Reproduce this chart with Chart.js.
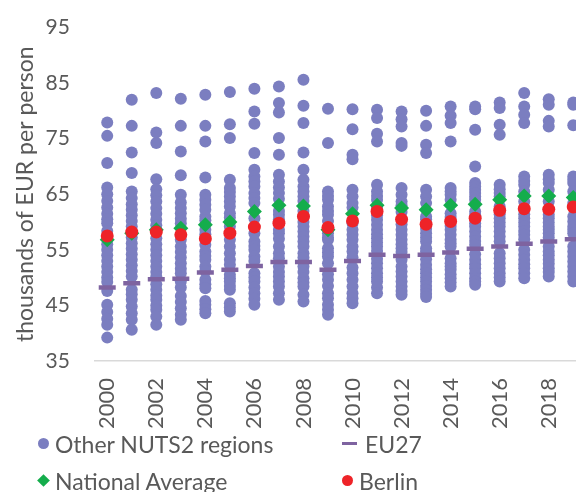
<!DOCTYPE html>
<html>
<head>
<meta charset="utf-8">
<script src="https://cdn.jsdelivr.net/npm/chart.js@4.4.1/dist/chart.umd.min.js"></script>
<style>
  html, body { margin: 0; padding: 0; background: #fff; overflow: hidden; }
  /* 画布比窗口宽，右侧被裁掉一部分（与原图一致） */
  #wrap { position: relative; width: 617px; height: 492px; }
  #legend {
    position: absolute; left: 0; top: 425px; width: 576px; padding-left: 38px;
    display: grid; grid-template-columns: 304px 230px; grid-auto-rows: 37px;
    font-family: Lato, sans-serif; font-size: 23px; color: #595959;
  }
  .item { display: flex; align-items: center; white-space: nowrap; }
  .mk { display: inline-block; margin-right: 6px; }
</style>
</head>
<body>
<div id="wrap">
  <canvas id="gdp-chart"></canvas>
  <div id="legend"></div>
</div>
<script>
// 年份（类别轴）
const years = ['2000', '2001', '2002', '2003', '2004', '2005', '2006', '2007', '2008', '2009',
               '2010', '2011', '2012', '2013', '2014', '2015', '2016', '2017', '2018', '2019'];

// 其他 NUTS2 地区，每年一组（千欧元/人）
const otherRegions = [
  [77.9, 75.5, 70.6, 66.2, 65.0, 63.8, 62.6, 61.5, 60.5, 59.8, 58.4, 56.0, 55.0, 54.0, 53.0, 52.0, 51.0, 50.0, 49.2, 47.6, 45.1, 43.8, 42.6, 41.5, 39.2],
  [82.0, 77.3, 72.5, 68.8, 65.5, 64.3, 63.2, 62.2, 61.2, 60.2, 59.2, 57.2, 56.2, 55.2, 54.2, 53.2, 52.2, 51.2, 50.2, 47.8, 47.0, 46.0, 44.8, 43.6, 42.4, 40.6],
  [83.2, 76.1, 74.2, 67.7, 65.9, 64.8, 63.7, 62.5, 61.5, 60.4, 59.4, 57.1, 56.0, 55.0, 54.0, 53.0, 52.0, 51.0, 50.2, 48.8, 47.8, 46.8, 46.0, 45.0, 44.2, 43.0, 41.5],
  [82.2, 77.3, 72.7, 68.4, 64.9, 63.5, 62.5, 61.6, 60.6, 59.8, 56.8, 55.6, 54.6, 53.6, 52.6, 51.6, 50.8, 49.3, 48.2, 46.7, 45.6, 44.5, 43.3, 42.4],
  [82.9, 77.3, 74.5, 68.0, 64.9, 64.0, 63.1, 62.2, 61.0, 60.3, 58.6, 57.8, 55.9, 54.7, 53.9, 53.2, 52.0, 51.2, 49.6, 48.8, 48.1, 45.8, 45.1, 44.3, 43.6],
  [83.4, 77.6, 75.1, 67.6, 66.1, 65.4, 64.6, 63.7, 62.8, 61.6, 60.8, 59.2, 56.8, 55.6, 54.4, 53.2, 52.3, 50.5, 49.9, 49.3, 48.5, 47.8, 45.4, 44.6, 43.9],
  [84.0, 79.9, 77.7, 72.4, 69.4, 68.2, 67.3, 66.4, 65.2, 64.3, 63.4, 60.7, 58.0, 56.5, 55.7, 55.0, 53.8, 53.0, 50.8, 50.0, 49.3, 48.2, 47.2, 46.2, 45.1],
  [84.4, 81.4, 79.7, 75.1, 72.1, 68.5, 67.3, 66.2, 65.2, 64.2, 62.0, 61.3, 60.5, 58.6, 58.0, 57.0, 55.6, 54.4, 53.5, 52.0, 51.0, 50.2, 49.3, 48.4, 47.2, 46.0],
  [85.6, 80.9, 77.8, 72.5, 69.4, 67.6, 66.4, 65.5, 64.6, 63.8, 62.0, 61.0, 60.0, 59.2, 58.3, 57.4, 56.5, 55.6, 54.4, 53.6, 52.0, 51.0, 49.9, 49.1, 48.4, 46.9, 45.7],
  [80.4, 74.2, 65.5, 64.7, 64.0, 62.8, 62.0, 61.3, 60.2, 58.0, 57.2, 56.8, 55.3, 54.5, 53.8, 52.6, 50.6, 49.6, 48.5, 47.2, 46.3, 45.1, 44.2, 43.3],
  [80.3, 76.7, 72.1, 71.3, 65.8, 64.6, 63.4, 62.6, 59.8, 58.6, 57.7, 56.8, 55.6, 54.7, 53.6, 51.8, 50.8, 49.6, 48.4, 47.2, 46.3, 45.4],
  [80.2, 78.7, 75.9, 74.5, 66.7, 65.5, 64.7, 64.0, 62.5, 61.2, 60.4, 59.5, 58.6, 57.8, 57.1, 56.3, 55.6, 54.8, 53.4, 52.6, 51.7, 50.8, 50.0, 49.3, 48.2, 47.2],
  [79.9, 78.5, 77.2, 74.2, 73.7, 66.1, 64.9, 63.7, 63.0, 61.8, 59.6, 58.6, 57.7, 56.8, 56.0, 55.3, 54.6, 53.2, 52.0, 51.1, 50.2, 49.3, 48.4, 47.6, 46.9],
  [80.0, 77.3, 73.9, 72.4, 65.8, 64.6, 63.4, 61.0, 60.5, 58.8, 58.0, 57.2, 56.5, 55.3, 54.7, 53.3, 52.3, 51.5, 50.8, 50.0, 49.3, 48.5, 47.8, 47.1, 46.5],
  [80.8, 79.1, 77.8, 74.5, 66.1, 65.5, 64.9, 64.0, 61.6, 60.9, 59.3, 58.6, 57.7, 56.8, 56.2, 55.6, 53.5, 52.6, 52.0, 51.4, 50.6, 49.9, 49.1, 48.4],
  [80.8, 80.3, 76.6, 70.0, 67.0, 66.4, 65.8, 65.2, 64.6, 64.0, 61.9, 61.2, 59.8, 59.2, 58.3, 57.4, 56.6, 55.9, 54.2, 53.2, 52.4, 51.7, 50.8, 49.9, 49.3, 48.7],
  [81.5, 80.5, 77.5, 75.7, 66.7, 65.9, 65.2, 64.6, 62.8, 61.4, 60.7, 59.9, 59.2, 58.3, 57.4, 56.5, 54.4, 53.5, 52.6, 51.7, 50.8, 50.0, 49.3],
  [83.2, 80.8, 79.3, 77.8, 68.2, 67.4, 66.7, 65.5, 63.7, 61.4, 60.7, 59.9, 59.2, 58.4, 57.7, 56.9, 55.0, 54.1, 53.2, 52.4, 51.7, 50.8, 49.9],
  [82.1, 81.1, 78.2, 77.2, 68.5, 67.7, 67.0, 65.8, 63.7, 61.3, 60.7, 59.9, 59.2, 58.6, 58.0, 57.2, 55.6, 54.7, 54.0, 53.2, 52.5, 51.7, 51.0, 50.2],
  [81.5, 81.1, 77.4, 68.2, 67.6, 67.0, 65.5, 63.4, 61.0, 60.1, 59.2, 58.6, 58.0, 55.6, 54.7, 53.8, 52.9, 52.0, 51.1, 50.2, 49.3]
];

const eu27 = [48.2, 49.0, 49.7, 49.8, 50.9, 51.4, 52.1, 52.8, 52.8, 51.4,
              53.0, 54.1, 53.9, 54.1, 54.5, 55.2, 55.6, 56.1, 56.5, 56.9];

const nationalAverage = [56.8, 58.0, 58.6, 58.9, 59.5, 60.0, 61.9, 63.0, 62.9, 58.6,
                         61.5, 63.0, 62.5, 62.2, 63.0, 63.2, 64.0, 64.7, 64.7, 64.4];

const berlin = [57.5, 58.2, 58.2, 57.7, 57.0, 58.0, 59.1, 59.8, 61.0, 59.0,
                60.2, 61.9, 60.5, 59.6, 60.1, 60.7, 62.1, 62.4, 62.3, 62.7];

// y 轴刻度
const yMin = 35;
const yMax = 95;
const yStep = 10;

const FONT = "Lato, 'Open Sans', sans-serif";
const TEXT_COLOR = '#595959';

document.addEventListener('DOMContentLoaded', function() {
    const chart = initScatterChart();
    buildLegend(chart);
});

// 把每年的数组转换成散点
function toPoints(values) {
    return values.map((v, i) => ({ x: years[i], y: v }));
}

function initScatterChart() {
    const ctx = document.getElementById('gdp-chart');

    const otherPoints = [];
    years.forEach((yr, i) => {
        otherRegions[i].forEach(v => otherPoints.push({ x: yr, y: v }));
    });

    const data = {
        labels: years,
        datasets: [
            {
                label: 'Other NUTS2 regions',
                data: otherPoints,
                pointStyle: 'circle',
                pointRadius: 6,
                backgroundColor: '#7B7EC0',
                borderWidth: 0,
                order: 4
            },
            {
                label: 'EU27',
                data: toPoints(eu27),
                pointStyle: 'line',
                pointRadius: 8.5,
                borderColor: '#7E63A0',
                backgroundColor: '#7E63A0',
                pointBorderWidth: 4.5,
                order: 3
            },
            {
                label: 'National Average',
                data: toPoints(nationalAverage),
                pointStyle: 'rectRot',
                pointRadius: 7.5,
                backgroundColor: '#14AD4C',
                borderWidth: 0,
                order: 2
            },
            {
                label: 'Berlin',
                data: toPoints(berlin),
                pointStyle: 'circle',
                pointRadius: 6.5,
                backgroundColor: '#EE2328',
                borderWidth: 0,
                order: 1
            }
        ]
    };

    const options = {
        responsive: true,
        maintainAspectRatio: false,
        animation: false,
        layout: {
            padding: { top: 27.5, left: 8, right: 0, bottom: 46 }
        },
        scales: {
            x: {
                type: 'category',
                labels: years,
                offset: true,
                grid: { display: false, drawTicks: false },
                border: { display: true, color: '#D9D9D9', width: 1.5 },
                ticks: {
                    autoSkip: false,
                    maxRotation: 90,
                    minRotation: 90,
                    padding: 17,
                    color: TEXT_COLOR,
                    font: { family: FONT, size: 22 },
                    callback: function(value, index) {
                        return index % 2 === 0 ? years[index] : '';
                    }
                }
            },
            y: {
                min: yMin,
                max: yMax,
                grid: { display: false, drawTicks: false },
                border: { display: false },
                ticks: {
                    stepSize: yStep,
                    padding: 25,
                    color: TEXT_COLOR,
                    // 行高很小，避免刻度间距撑大绘图区上边距
                    font: { family: FONT, size: 21, lineHeight: 0.1 }
                },
                title: {
                    display: true,
                    text: 'thousands of EUR per person',
                    color: TEXT_COLOR,
                    padding: { top: 4, bottom: -19 },
                    font: { family: FONT, size: 23 }
                }
            }
        },
        plugins: {
            legend: { display: false },
            tooltip: { enabled: false }
        }
    };

    return new Chart(ctx, {
        type: 'scatter',
        data: data,
        options: options
    });
}

// HTML 图例：两列排列
function buildLegend(chart) {
    const box = document.getElementById('legend');
    chart.data.datasets.forEach(ds => {
        const item = document.createElement('div');
        item.className = 'item';
        const mk = document.createElement('span');
        mk.className = 'mk';
        if (ds.pointStyle === 'circle') {
            mk.style.cssText = 'width:11px;height:11px;border-radius:50%;background:' + ds.backgroundColor;
        } else if (ds.pointStyle === 'rectRot') {
            mk.style.cssText = 'width:9px;height:9px;transform:rotate(45deg);margin-left:1px;margin-right:7px;background:' + ds.backgroundColor;
        } else {
            mk.style.cssText = 'width:15px;height:3px;margin-right:8px;background:' + ds.borderColor;
        }
        item.appendChild(mk);
        item.appendChild(document.createTextNode(ds.label));
        box.appendChild(item);
    });
}
</script>
</body>
</html>
